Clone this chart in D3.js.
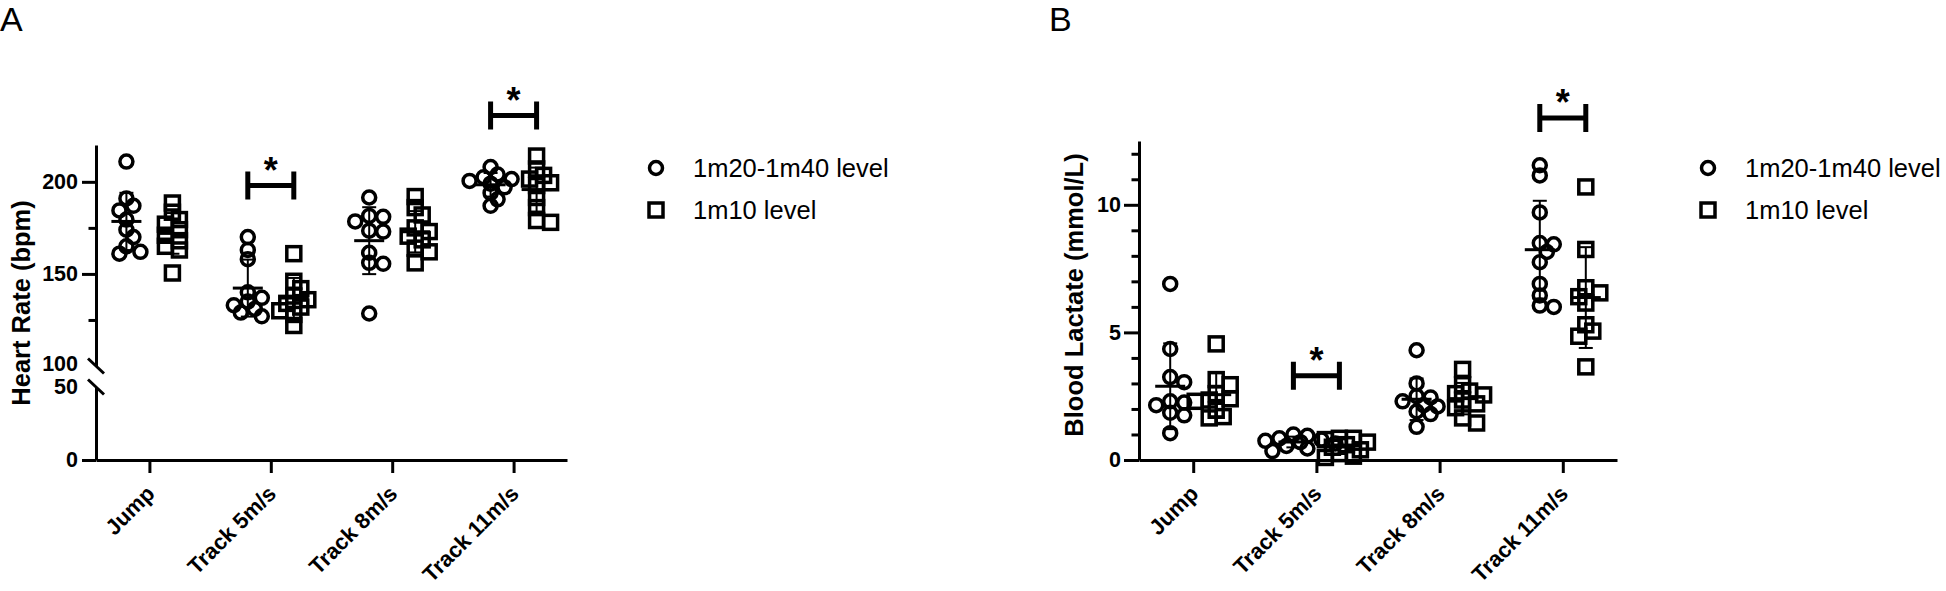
<!DOCTYPE html>
<html>
<head>
<meta charset="utf-8">
<script src="https://cdn.jsdelivr.net/npm/d3@7"></script>
<style>
  body { margin: 0; background: #fff; }
  svg { display: block; font-family: "Liberation Sans", Arial, sans-serif; }
  .axis path, .axis line { stroke: #000; stroke-width: 3; }
  .axis text { font-size: 21.5px; font-weight: bold; fill: #000; }
  .xaxis text { font-size: 22px; }
</style>
</head>
<body>
<svg id="chart" width="1946" height="591"></svg>
<script>
// categories and series
const categories = ["Jump", "Track 5m/s", "Track 8m/s", "Track 11m/s"];
const seriesNames = ["1m20-1m40 level", "1m10 level"];

// heart rate (bpm), one list per category
const hrHigh = [
  [211, 191, 187, 184.5, 179.5, 174, 170, 165, 162, 161],
  [170, 163, 158, 140, 137, 135, 133, 131, 129, 127],
  [191.5, 181.5, 181, 178.5, 173.5, 173, 161.5, 156, 155.5, 128.5],
  [208, 204, 202.5, 201.5, 200.5, 199, 197, 194, 190.5, 187]
];
const hrLow = [
  [188.5, 183.5, 179.5, 177, 174, 171, 168, 165, 163, 150.5],
  [161, 146, 142, 138, 136, 134, 132, 130, 128, 122],
  [192, 186, 182, 175, 173, 170.5, 168.5, 164, 162, 156],
  [214, 207, 203.5, 201.5, 199.5, 198, 191.5, 186, 179, 178]
];

// blood lactate (mmol/L)
const lacHigh = [
  [6.9, 4.35, 3.25, 3.05, 2.3, 2.25, 2.15, 1.85, 1.75, 1.05],
  [1.0, 0.95, 0.85, 0.8, 0.75, 0.7, 0.65, 0.55, 0.45, 0.35],
  [4.3, 3.0, 2.5, 2.45, 2.3, 2.15, 2.1, 1.9, 1.8, 1.3],
  [11.55, 11.15, 9.7, 8.5, 8.45, 8.15, 7.75, 6.9, 6.45, 6.05, 6.0]
];
const lacLow = [
  [4.55, 3.15, 2.95, 2.6, 2.4, 2.35, 2.3, 1.95, 1.7, 1.65],
  [0.85, 0.85, 0.8, 0.7, 0.6, 0.5, 0.4, 0.25, 0.15, 0.1],
  [3.55, 2.95, 2.7, 2.6, 2.55, 2.35, 2.2, 2.05, 1.65, 1.45],
  [10.7, 8.25, 6.75, 6.55, 6.4, 6.15, 5.3, 5.05, 4.85, 3.65]
];

// ticks
const hrTicksUpper = [100, 150, 200];
const hrTicksLower = [0, 50];
const hrMinor = [125, 175];
const lacTicks = [0, 5, 10];
const lacMinor = [1, 2, 3, 4, 6, 7, 8, 9, 11, 12];

// significance brackets (category, height in data units)
const hrSig = [{cat: "Track 5m/s", y: 198}, {cat: "Track 11m/s", y: 236}];
const lacSig = [{cat: "Track 5m/s", y: 3.3}, {cat: "Track 11m/s", y: 13.4}];

const svg = d3.select("#chart");

// simple beeswarm so overlapping points spread sideways
function swarm(vals, yFn, step, minD) {
  const order = d3.range(vals.length).sort((a, b) => vals[b] - vals[a]);
  const placed = [], out = [];
  order.forEach(i => {
    const py = yFn(vals[i]);
    for (let k = 0; k < 40; k++) {
      const off = (k % 2 ? 1 : -1) * Math.ceil(k / 2) * step;
      if (placed.every(p => Math.hypot(p.dx - off, p.py - py) >= minD)) {
        out[i] = {dx: off, py: py};
        placed.push(out[i]);
        break;
      }
    }
  });
  return out;
}

function drawMarker(g, shape, cx, cy) {
  if (shape === "circle") {
    g.append("circle").attr("cx", cx).attr("cy", cy).attr("r", 6.5)
      .attr("fill", "none").attr("stroke", "#000").attr("stroke-width", 3.5);
  } else {
    g.append("rect").attr("x", cx - 7).attr("y", cy - 7).attr("width", 14).attr("height", 14)
      .attr("fill", "none").attr("stroke", "#000").attr("stroke-width", 3.5);
  }
}

function drawPanel(p) {
  const g = svg.append("g");
  const x = d3.scalePoint().domain(categories).range(p.xRange).padding(0.44);
  const sx = d3.scalePoint().domain(seriesNames).range([-23, 23]);
  const y0 = p.xRange[0];

  // x axis
  const xa = g.append("g").attr("class", "axis xaxis")
    .attr("transform", "translate(0," + p.baseY + ")")
    .call(d3.axisBottom(x).tickSize(13).tickSizeOuter(0));
  xa.selectAll("text")
    .attr("x", 0).attr("y", 0).attr("dy", 0)
    .attr("transform", "translate(6,35) rotate(-45)")
    .style("text-anchor", "end");

  p.drawY(g, y0);

  // y title
  g.append("text")
    .attr("transform", "translate(" + p.titleX + "," + p.titleY + ") rotate(-90)")
    .attr("text-anchor", "middle").attr("dy", "0.35em")
    .style("font-size", "25.5px").style("font-weight", "bold")
    .text(p.title);

  // points + mean/SD bars
  [p.high, p.low].forEach((groups, si) => {
    const shape = si === 0 ? "circle" : "square";
    groups.forEach((vals, ci) => {
      const cx = x(categories[ci]) + sx(seriesNames[si]);
      const pos = swarm(vals, p.y, 7, 9);
      pos.forEach(d => drawMarker(g, shape, cx + d.dx, d.py));
      const m = d3.mean(vals), sd = d3.deviation(vals);
      const bar = g.append("g").attr("stroke", "#000");
      bar.append("line").attr("x1", cx).attr("x2", cx)
        .attr("y1", p.y(m + sd)).attr("y2", p.y(m - sd)).attr("stroke-width", 2);
      [m + sd, m - sd].forEach(v => bar.append("line")
        .attr("x1", cx - 7).attr("x2", cx + 7).attr("y1", p.y(v)).attr("y2", p.y(v))
        .attr("stroke-width", 2));
      bar.append("line").attr("x1", cx - 15).attr("x2", cx + 15)
        .attr("y1", p.y(m)).attr("y2", p.y(m)).attr("stroke-width", 3);
    });
  });

  // significance brackets
  p.sig.forEach(s => {
    const xl = x(s.cat) + sx(seriesNames[0]), xr = x(s.cat) + sx(seriesNames[1]);
    const yy = p.y(s.y);
    g.append("path")
      .attr("d", "M" + xl + "," + (yy - 14) + "V" + (yy + 14) + "M" + xl + "," + yy + "H" + xr +
        "M" + xr + "," + (yy - 14) + "V" + (yy + 14))
      .attr("fill", "none").attr("stroke", "#000").attr("stroke-width", 5);
    g.append("text").attr("x", (xl + xr) / 2).attr("y", yy - 3)
      .attr("text-anchor", "middle")
      .style("font-size", "36px").style("font-weight", "bold")
      .text("*");
  });

  // legend
  const lg = g.append("g").attr("transform", "translate(" + p.legendX + ",168)");
  seriesNames.forEach((name, i) => {
    const row = lg.append("g").attr("transform", "translate(0," + (i * 42) + ")");
    drawMarker(row, i === 0 ? "circle" : "square", 0, 0);
    row.append("text").attr("x", 37).attr("dy", "0.35em")
      .style("font-size", "25.5px").text(name);
  });

  // panel letter
  svg.append("text").attr("x", p.letterX).attr("y", 31)
    .style("font-size", "34px").text(p.letter);
}

// Panel A, broken y axis
const hrUp = d3.scaleLinear().domain([100, 220]).range([366, 145]);
const hrDown = d3.scaleLinear().domain([0, 50]).range([460, 387]);
const hrY = v => v >= 100 ? hrUp(v) : hrDown(v);

drawPanel({
  letter: "A", letterX: 0,
  xRange: [96, 567], baseY: 460,
  y: hrY, high: hrHigh, low: hrLow, sig: hrSig,
  title: "Heart Rate (bpm)", titleX: 21, titleY: 303,
  legendX: 656,
  drawY: (g, ax) => {
    const up = g.append("g").attr("class", "axis").attr("transform", "translate(" + ax + ",0)")
      .call(d3.axisLeft(hrUp).tickValues(hrTicksUpper).tickSize(14).tickPadding(4).tickSizeOuter(0));
    up.selectAll(".tick").filter(d => d === 100).select("line").remove();
    up.selectAll(".tick").filter(d => d === 100).select("text").attr("dy", "0.2em");
    g.append("g").attr("class", "axis").attr("transform", "translate(" + ax + ",0)")
      .call(d3.axisLeft(hrUp).tickValues(hrMinor).tickSize(7.5).tickFormat("").tickSizeOuter(0))
      .select(".domain").remove();
    const low = g.append("g").attr("class", "axis").attr("transform", "translate(" + ax + ",0)")
      .call(d3.axisLeft(hrDown).tickValues(hrTicksLower).tickSize(14).tickPadding(4).tickSizeOuter(0));
    low.selectAll(".tick").filter(d => d === 50).select("line").remove();
    // break marks
    [hrUp(100), hrDown(50)].forEach(by => g.append("line")
      .attr("x1", ax - 8).attr("x2", ax + 8).attr("y1", by - 7.5).attr("y2", by + 7.5)
      .attr("stroke", "#000").attr("stroke-width", 3));
  }
});

// Panel B
const lacY = d3.scaleLinear().domain([0, 12.5]).range([460, 141]);
drawPanel({
  letter: "B", letterX: 1049,
  xRange: [1139, 1617], baseY: 460,
  y: lacY, high: lacHigh, low: lacLow, sig: lacSig,
  title: "Blood Lactate (mmol/L)", titleX: 1074, titleY: 295,
  legendX: 1708,
  drawY: (g, ax) => {
    g.append("g").attr("class", "axis").attr("transform", "translate(" + ax + ",0)")
      .call(d3.axisLeft(lacY).tickValues(lacTicks).tickSize(15).tickPadding(3).tickSizeOuter(0));
    g.append("g").attr("class", "axis").attr("transform", "translate(" + ax + ",0)")
      .call(d3.axisLeft(lacY).tickValues(lacMinor).tickSize(7.5).tickFormat("").tickSizeOuter(0))
      .select(".domain").remove();
  }
});
</script>
</body>
</html>
